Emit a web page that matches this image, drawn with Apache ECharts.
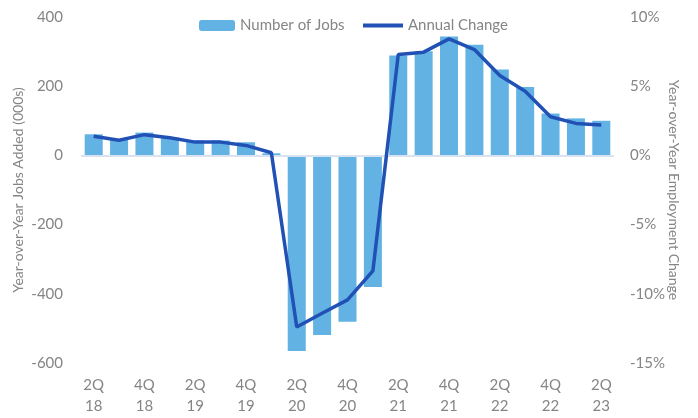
<!DOCTYPE html>
<html><head><meta charset="utf-8">
<script src="https://cdn.jsdelivr.net/npm/echarts@6/dist/echarts.min.js"></script>
<style>html,body{margin:0;padding:0;background:#fff}#c{width:698px;height:418px}</style>
</head><body><div id="c"></div>
<script>
var categories = ['2Q 18','3Q 18','4Q 18','1Q 19','2Q 19','3Q 19','4Q 19','1Q 20','2Q 20','3Q 20','4Q 20','1Q 21','2Q 21','3Q 21','4Q 21','1Q 22','2Q 22','3Q 22','4Q 22','1Q 23','2Q 23'];
var jobsAdded = [61, 46, 66, 52, 43, 43, 38, 6, -565, -519, -481, -380, 289, 301, 344, 320, 248, 198, 121, 107, 100];
var annualChange = [1.39, 1.1, 1.5, 1.28, 0.96, 0.96, 0.72, 0.19, -12.4, -11.4, -10.44, -8.35, 7.29, 7.46, 8.42, 7.65, 5.77, 4.64, 2.79, 2.31, 2.19];
var leftTicks = {min: -600, max: 400, interval: 200};
var rightTicks = {min: -15, max: 10, interval: 5};

var FONT = 'Lato';
var GRAY = '#858585';
var chart = echarts.init(document.getElementById('c'), null, {renderer: 'canvas'});
chart.setOption({
  animation: false,
  textStyle: {fontFamily: FONT},
  legend: [{
    top: 13, left: 194,
    itemWidth: 36, itemHeight: 11,
    textStyle: {color: GRAY, fontSize: 15, fontFamily: FONT},
    data: [{name: 'Number of Jobs'}]
  }, {
    top: 13, left: 358,
    itemWidth: 40, itemHeight: 4, icon: 'rect',
    textStyle: {color: GRAY, fontSize: 15, fontFamily: FONT},
    data: [{name: 'Annual Change', icon: 'rect'}]
  }],
  grid: {left: 81, right: 84, top: 17, bottom: 55},
  xAxis: {
    type: 'category', data: categories,
    axisLine: {show: false, onZero: false},
    axisTick: {show: false},
    axisLabel: {
      interval: 1, color: GRAY, fontSize: 15, fontFamily: FONT, lineHeight: 21, margin: 12,
      formatter: function (v) { return v.replace(' ', '\n'); }
    }
  },
  yAxis: [{
    type: 'value', min: leftTicks.min, max: leftTicks.max, interval: leftTicks.interval,
    name: 'Year-over-Year Jobs Added (000s)', nameLocation: 'middle', nameGap: 56, nameRotate: 90,
    nameMoveOverlap: false,
    nameTextStyle: {color: GRAY, fontSize: 14, fontFamily: FONT},
    axisLine: {show: false}, axisTick: {show: false}, splitLine: {show: false},
    axisLabel: {color: GRAY, fontSize: 15, fontFamily: FONT, margin: 18}
  }, {
    type: 'value', min: rightTicks.min, max: rightTicks.max, interval: rightTicks.interval,
    name: 'Year-over-Year Employment Change', nameLocation: 'middle', nameGap: 53, nameRotate: -90,
    nameMoveOverlap: false,
    nameTextStyle: {color: GRAY, fontSize: 14, fontFamily: FONT},
    axisLine: {show: false}, axisTick: {show: false}, splitLine: {show: false},
    axisLabel: {color: GRAY, fontSize: 15, fontFamily: FONT, margin: 16, formatter: '{value}%'}
  }],
  series: [{
    name: 'Number of Jobs', type: 'bar', data: jobsAdded, yAxisIndex: 0,
    barCategoryGap: '29%',
    itemStyle: {color: '#62b3e4'},
    markLine: {
      silent: true, symbol: ['none', 'none'], label: {show: false},
      lineStyle: {color: '#d9e2f1', width: 2, type: 'solid'},
      data: [{yAxis: 0}]
    }
  }, {
    name: 'Annual Change', type: 'line', data: annualChange, yAxisIndex: 1,
    symbol: 'none', showSymbol: false,
    lineStyle: {color: '#2151b5', width: 3.5},
    itemStyle: {color: '#2151b5'},
    z: 5
  }]
});
</script>
</body></html>
